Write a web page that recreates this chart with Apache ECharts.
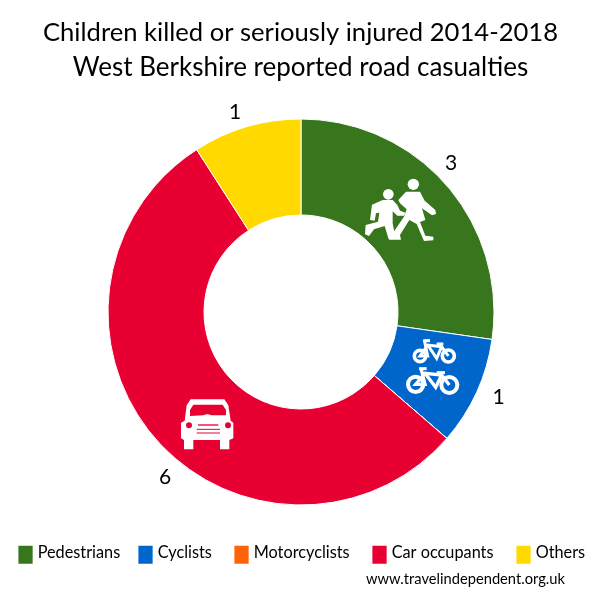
<!DOCTYPE html>
<html><head><meta charset="utf-8">
<style>html,body{margin:0;padding:0;background:#fff}#c{width:600px;height:600px}</style>
<script src="https://cdn.jsdelivr.net/npm/echarts@6/dist/echarts.min.js"></script></head>
<body><div id="c"></div>
<script>
const categories = ['Pedestrians','Cyclists','Motorcyclists','Car occupants','Others'];
const values = [3,1,0,6,1];
const colors = ['#38761d','#0066cc','#ff6309','#e90033','#ffd900'];
const legendLeft = [16.4,136.4,232.4,370.4,514.4];
const titleLines = ['Children killed or seriously injured 2014-2018','West Berkshire reported road casualties'];
const credit = 'www.travelindependent.org.uk';
const FONT = 'Lato';
const labelShift = [[-11,-15],[5,0],[0,0],[25,31],[-2,-3]];

function poly(ox,oy,pts){ // zoomed-crop coordinates for the decorative icons
  return {type:'polygon',x:ox,y:oy,scaleX:1/3,scaleY:1/3,silent:true,z:10,shape:{points:pts},style:{fill:'#fff'}};
}
function circ(ox,oy,cx,cy,r,fill,stroke,lw){
  return {type:'circle',x:ox,y:oy,scaleX:1/3,scaleY:1/3,silent:true,z:10,shape:{cx,cy,r},
    style:{fill:fill||'#fff',stroke:stroke||null,lineWidth:lw||0}};
}
function line(ox,oy,pts,lw,col){
  return {type:'polyline',x:ox,y:oy,scaleX:1/3,scaleY:1/3,silent:true,z:11,shape:{points:pts},
    style:{stroke:col||'#fff',lineWidth:lw,fill:null}};
}
function redPoly(ox,oy,pts){const p=poly(ox,oy,pts);p.z=11;p.style.fill='#e90033';return p;}
const icons = [
 // children
 circ(350,170,190,43,17),
 poly(350,170,[[168,65],[210,65],[224,92],[256,120],[258,132],[246,136],[216,115],[226,150],[210,156],[226,197],[250,200],[250,211],[222,213],[200,162],[178,150],[150,195],[153,209],[118,209],[115,195],[128,190],[162,140],[170,118],[150,100],[145,90]]),
 circ(350,170,115,73,16),
 poly(350,170,[[98,90],[128,90],[142,105],[150,122],[166,128],[162,137],[142,137],[128,124],[128,160],[137,207],[116,208],[104,168],[72,178],[57,198],[45,193],[47,165],[84,155],[88,128],[78,130],[74,152],[60,150],[66,104]]),
 // bikes
 circ(395,330,75,78,17,'none','#fff',11),
 circ(395,330,160,78,18,'none','#fff',11),
 line(395,330,[[88,30],[98,78],[75,78],[98,45],[140,50],[160,78]],9),
 line(395,330,[[98,45],[125,85],[140,50]],9),
 line(395,330,[[85,32],[105,32]],9),
 line(395,330,[[125,42],[145,42]],9),
 circ(395,330,62,163,23,'none','#fff',12),
 circ(395,330,163,165,24,'none','#fff',12),
 line(395,330,[[78,115],[90,163],[62,163],[90,130],[140,135],[163,165]],10),
 line(395,330,[[90,130],[122,172],[140,135]],10),
 line(395,330,[[72,116],[95,116]],9),
 line(395,330,[[125,128],[150,128]],9),
 // car
 poly(170,390,[[62,28],[163,28],[175,46],[182,92],[190,98],[190,145],[178,150],[178,178],[150,178],[150,150],[70,150],[70,178],[42,178],[42,150],[33,145],[33,98],[44,92],[50,46]]),
 redPoly(170,390,[[70,44],[158,44],[168,60],[168,76],[125,76],[112,72],[100,76],[60,78],[60,60]]),
 circ(170,390,57,106,9,'#e90033'),
 circ(170,390,174,106,9,'#e90033'),
 line(170,390,[[84,105],[145,105]],4,'#e90033'),
 line(170,390,[[80,118],[150,118]],3,'#e90033'),
 line(170,390,[[80,129],[150,129]],3,'#e90033')
];

const chart = echarts.init(document.getElementById('c'),null,{renderer:'canvas'});
chart.setOption({
  animation:false,
  backgroundColor:'#fff',
  color:colors,
  title:titleLines.map((t,i)=>({text:t,left:295.5,textAlign:'center',top:[15,50][i],
    textStyle:{fontFamily:FONT,fontSize:[25.6,26][i],fontWeight:'normal',color:'#000'}})),
  legend:categories.map((c,i)=>({data:[c],left:legendLeft[i],top:543.7,itemWidth:16.25,itemHeight:20,
    icon:'rect',itemGap:0,padding:0,selectedMode:false,formatter:'{a|{name}}',
    textStyle:{color:'#000',rich:{a:{fontFamily:FONT,fontSize:16.3,color:'#000',padding:[0,0,4,-1]}}}})),
  series:[{type:'pie',center:[301,312],radius:[97,193],startAngle:90,clockwise:true,
    avoidLabelOverlap:false,minAngle:0,
    data:categories.map((c,i)=>({name:c,value:values[i]})),
    itemStyle:{borderColor:'#fff',borderWidth:1},
    label:{show:true,position:'outside',distanceToLabelLine:0,
      formatter:p=>p.value>0?String(p.value):'',
      fontFamily:FONT,fontSize:21,color:'#000'},
    labelLine:{show:false,length:12,length2:0},
    labelLayout:p=>({dx:labelShift[p.dataIndex][0],dy:labelShift[p.dataIndex][1]})}],
  graphic:{elements:[
    {type:'text',left:366,top:572,silent:true,style:{text:credit,fontFamily:FONT,fontSize:14.7,fill:'#000'}},
    ...icons]}
});
</script></body></html>
